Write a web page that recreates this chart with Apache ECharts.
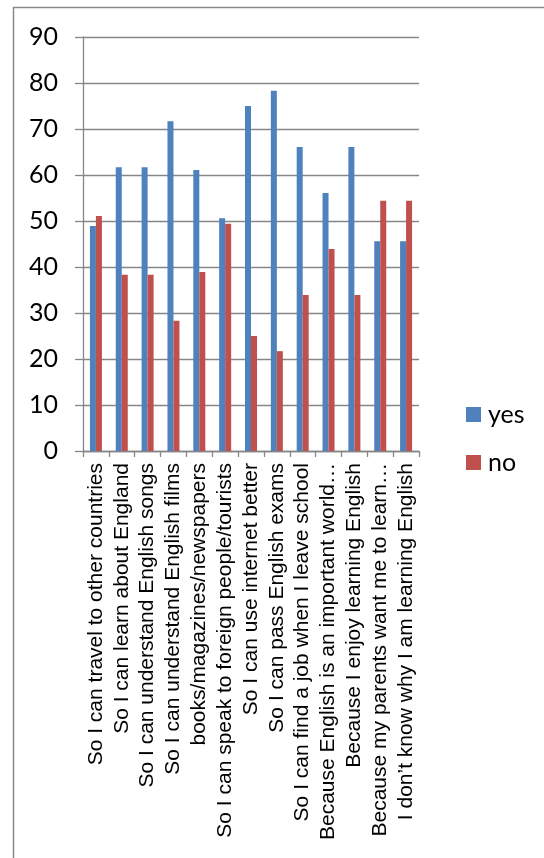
<!DOCTYPE html>
<html>
<head>
<meta charset="utf-8">
<script src="https://cdn.jsdelivr.net/npm/echarts@6/dist/echarts.min.js"></script>
<style>
html,body{margin:0;padding:0;background:#fff;}
#chart{width:544px;height:858px;}
</style>
</head>
<body>
<div id="chart"></div>
<script>
const categories = [
  "So I can travel to other countries",
  "So I can learn about England",
  "So I can understand English songs",
  "So I can understand English films",
  "books/magazines/newspapers",
  "So I can speak to foreign people/tourists",
  "So I can use internet better",
  "So I can pass English exams",
  "So I can find a job when I leave school",
  "Because English is an important world…",
  "Because I enjoy learning English",
  "Because my parents want me to learn…",
  "I don’t know why I am learning English"
];
const yesValues = [48.9, 61.7, 61.7, 71.7, 61.1, 50.6, 75.0, 78.3, 66.1, 56.1, 66.1, 45.6, 45.6];
const noValues  = [51.1, 38.3, 38.3, 28.3, 38.9, 49.4, 25.0, 21.7, 33.9, 43.9, 33.9, 54.4, 54.4];
const seriesNames = ["yes", "no"];
const yTicks = { min: 0, max: 90, interval: 10 };

const chart = echarts.init(document.getElementById('chart'), null, { renderer: 'canvas' });
const gray = '#868686';
chart.setOption({
  animation: false,
  backgroundColor: '#ffffff',
  graphic: [{
    type: 'rect',
    shape: { x: 13.5, y: 7.5, width: 700, height: 1000 },
    style: { fill: 'none', stroke: '#8a8a8a', lineWidth: 1.5 },
    silent: true
  }],
  grid: { left: 83, right: 125, top: 37, bottom: 407, containLabel: false },
  legend: {
    orient: 'vertical',
    left: 461,
    top: 397,
    itemWidth: 15,
    itemHeight: 15,
    itemGap: 23,
    icon: 'rect',
    textStyle: { fontFamily: 'Lato', fontSize: 25, lineHeight: 25, color: '#000', padding: [0,0,0,2] },
    data: seriesNames
  },
  xAxis: {
    type: 'category',
    data: categories,
    axisLine: { lineStyle: { color: gray, width: 1.3 } },
    axisTick: { show: true, length: 6, lineStyle: { color: gray, width: 1.3 } },
    axisLabel: {
      rotate: 90,
      interval: 0,
      margin: 12,
      fontFamily: 'Liberation Sans',
      fontSize: 21,
      color: '#000'
    }
  },
  yAxis: {
    type: 'value',
    min: yTicks.min,
    max: yTicks.max,
    interval: yTicks.interval,
    axisLine: { show: true, lineStyle: { color: gray, width: 1.3 } },
    axisTick: { show: true, length: 8, lineStyle: { color: gray, width: 1.3 } },
    splitLine: { show: true, lineStyle: { color: gray, width: 1.3 } },
    axisLabel: { margin: 25, fontFamily: 'Lato', fontSize: 25, color: '#000' }
  },
  series: [
    { name: seriesNames[0], type: 'bar', data: yesValues, barWidth: 6, barGap: '0%',
      itemStyle: { color: '#4F81BD' } },
    { name: seriesNames[1], type: 'bar', data: noValues, barWidth: 6, barGap: '0%',
      itemStyle: { color: '#C0504D' } }
  ]
});
</script>
</body>
</html>
